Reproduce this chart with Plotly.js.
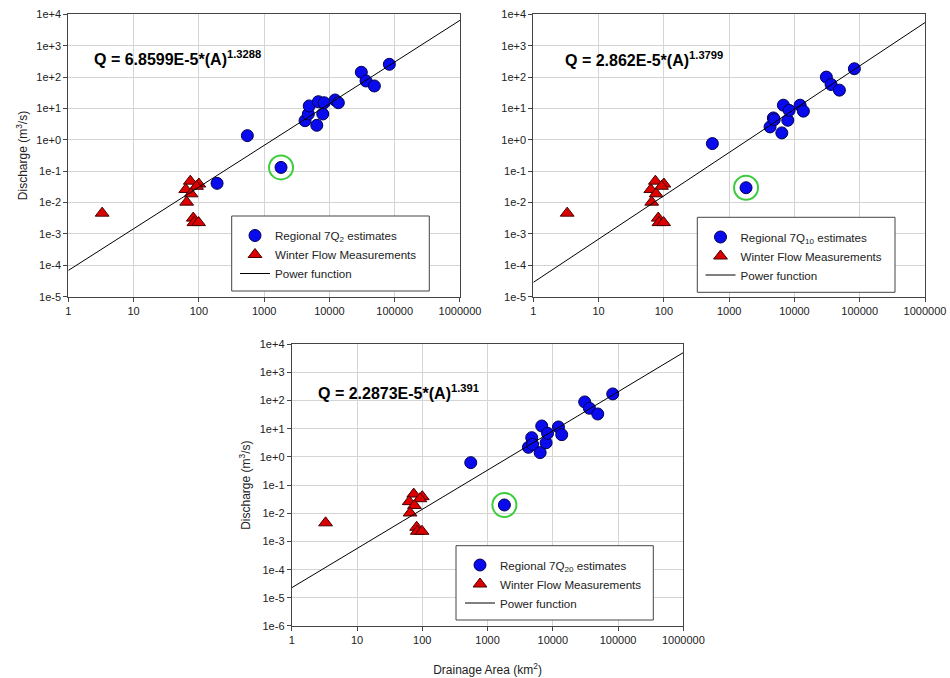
<!DOCTYPE html>
<html>
<head>
<meta charset="utf-8">
<script src="https://cdn.plot.ly/plotly-3.0.1.min.js"></script>
<style>html,body{margin:0;padding:0;background:#fff;}#chart{width:950px;height:678px;}</style>
</head>
<body>
<div id="chart"></div>
<script>
// ---- data ----
var stationArea = [190, 553, 1813, 4230, 4750, 4900, 6400, 6770, 7900, 8300, 12200, 13700, 30800, 36400, 48800, 82800];
var q7Q2  = [0.041, 1.36, 0.132, 4.07, 6.65, 12.0, 2.9, 16.4, 6.65, 15.2, 18.6, 15.2, 142, 75, 52, 255];
var q7Q10 = [null, 0.757, 0.0297, 2.58, 4.97, 4.4, 1.66, 12.7, 4.2, 8.7, 12.7, 8.2, 99.6, 58, 38.3, 184];
var q7Q20 = [null, 0.63, 0.0198, 2.2, 4.85, 2.8, 1.43, 12.6, 3.2, 6.9, 11.6, 6.2, 89.8, 53.5, 33.6, 173];
var circledIndex = 2;

var winterArea = [3.3, 74, 100, 92, 63, 76, 65, 82, 84, 99];
var winterQ    = [0.0046, 0.048, 0.039, 0.033, 0.026, 0.019, 0.0103, 0.0032, 0.0023, 0.0023];

var fitArea = [1, 1000000];
var fitQ2  = [6.8599e-5, 6440];
var fitQ10 = [2.862e-5, 5446];
var fitQ20 = [2.2873e-5, 5074];

var equations = ["Q = 6.8599E-5*(A)<sup>1.3288</sup>", "Q = 2.862E-5*(A)<sup>1.3799</sup>", "Q = 2.2873E-5*(A)<sup>1.391</sup>"];
var regionalNames = ["Regional 7Q<sub>2</sub> estimates", "Regional 7Q<sub>10</sub> estimates", "Regional 7Q<sub>20</sub> estimates"];

var xTickVals = [1, 10, 100, 1000, 10000, 100000, 1000000];
var xTickText = ["1", "10", "100", "1000", "10000", "100000", "1000000"];
var yTickVals = [1e4, 1e3, 1e2, 1e1, 1e0, 1e-1, 1e-2, 1e-3, 1e-4, 1e-5, 1e-6];
var yTickText = ["1e+4", "1e+3", "1e+2", "1e+1", "1e+0", "1e-1", "1e-2", "1e-3", "1e-4", "1e-5", "1e-6"];

// ---- build ----
var FONT = "Liberation Sans, Arial, sans-serif";
var W = 950, H = 678;
var panels = [
  {q: q7Q2,  fit: fitQ2,  xa: 'x',  ya: 'y',  leg: 'legend'},
  {q: q7Q10, fit: fitQ10, xa: 'x2', ya: 'y2', leg: 'legend2'},
  {q: q7Q20, fit: fitQ20, xa: 'x3', ya: 'y3', leg: 'legend3'}
];
var traces = [];
panels.forEach(function (p, i) {
  traces.push({
    type: 'scatter', mode: 'markers', x: stationArea, y: p.q, xaxis: p.xa, yaxis: p.ya,
    name: regionalNames[i], legend: p.leg,
    marker: {symbol: 'circle', size: 12, color: '#0a0aee', line: {color: '#000055', width: 1}}
  });
  traces.push({
    type: 'scatter', mode: 'markers', x: winterArea, y: winterQ, xaxis: p.xa, yaxis: p.ya,
    name: 'Winter Flow Measurements', legend: p.leg,
    marker: {symbol: 'triangle-up', size: 12, color: '#dd0000', line: {color: '#440000', width: 1}}
  });
  traces.push({
    type: 'scatter', mode: 'lines', x: fitArea, y: p.fit, xaxis: p.xa, yaxis: p.ya,
    name: 'Power function', legend: p.leg,
    line: {color: '#000000', width: 1}
  });
  traces.push({
    type: 'scatter', mode: 'markers', x: [stationArea[circledIndex]], y: [p.q[circledIndex]],
    xaxis: p.xa, yaxis: p.ya, showlegend: false, hoverinfo: 'skip',
    marker: {symbol: 'circle-open', size: 24, color: '#3ccc3c', line: {color: '#3ccc3c', width: 2}}
  });
});

function xAxis(domain, anchor, withTitle) {
  var a = {
    type: 'log', range: [0, 6], domain: domain, anchor: anchor,
    tickvals: xTickVals, ticktext: xTickText, tickfont: {family: FONT, size: 11, color: '#222'},
    ticks: 'outside', ticklen: 4, tickcolor: '#444',
    showgrid: true, gridcolor: '#d4d4d4', gridwidth: 1,
    showline: true, linecolor: '#444', linewidth: 1, mirror: true, zeroline: false
  };
  if (withTitle) a.title = {text: 'Drainage Area (km<sup>2</sup>)', font: {family: FONT, size: 12, color: '#222'}, standoff: 20};
  return a;
}
function yAxis(domain, anchor, rng, withTitle) {
  var a = {
    type: 'log', range: rng, domain: domain, anchor: anchor,
    tickvals: yTickVals, ticktext: yTickText, tickfont: {family: FONT, size: 11, color: '#222'},
    ticks: 'outside', ticklen: 4, tickcolor: '#444',
    showgrid: true, gridcolor: '#d4d4d4', gridwidth: 1,
    showline: true, linecolor: '#444', linewidth: 1, mirror: true, zeroline: false
  };
  if (withTitle) a.title = {text: 'Discharge (m<sup>3</sup>/s)', font: {family: FONT, size: 12, color: '#222'}, standoff: 6};
  return a;
}
function legendAt(px, py) {
  return {x: px / W, y: 1 - py / H, xanchor: 'left', yanchor: 'top', xref: 'paper', yref: 'paper',
    bgcolor: 'rgba(0,0,0,0)', borderwidth: 0,
    font: {family: FONT, size: 11.6, color: '#222'}, tracegroupgap: 0, itemwidth: 30};
}
function legendBox(x0, y0, x1, y1) {
  return {type: 'rect', xref: 'paper', yref: 'paper', layer: 'above',
    x0: x0 / W, x1: x1 / W, y0: 1 - y1 / H, y1: 1 - y0 / H,
    fillcolor: '#ffffff', line: {color: '#444', width: 1}};
}
function eq(text, xref, yref, x, y) {
  return {text: '<b>' + text + '</b>', xref: xref, yref: yref, x: x, y: y, xanchor: 'left', yanchor: 'middle',
    showarrow: false, font: {family: FONT, size: 16, color: '#000'}};
}

var layout = {
  width: W, height: H, margin: {l: 0, r: 0, t: 0, b: 0},
  paper_bgcolor: '#fff', plot_bgcolor: '#fff', showlegend: true,
  xaxis:  xAxis([0.0719, 0.4842], 'y', false),
  yaxis:  yAxis([0.5624, 0.9789], 'x', [-5, 4], true),
  xaxis2: xAxis([0.5614, 0.9737], 'y2', false),
  yaxis2: yAxis([0.5624, 0.9789], 'x2', [-5, 4], false),
  xaxis3: xAxis([0.3071, 0.7193], 'y3', true),
  yaxis3: yAxis([0.0767, 0.4922], 'x3', [-6, 4], true),
  legend:  legendAt(235, 221),
  legend2: legendAt(700.5, 222.5),
  legend3: legendAt(460, 550.5),
  shapes: [
    legendBox(231.7, 216, 429.3, 291),
    legendBox(697.3, 217.3, 895, 292.3),
    legendBox(456, 545.7, 653.3, 620)
  ],
  annotations: [
    eq(equations[0], 'x domain', 'y domain', 0.060, 0.845),
    eq(equations[1], 'x2 domain', 'y2 domain', 0.076, 0.84),
    eq(equations[2], 'x3 domain', 'y3 domain', 0.061, 0.83)
  ]
};

Plotly.newPlot('chart', traces, layout, {displayModeBar: false, staticPlot: true});
</script>
</body>
</html>
